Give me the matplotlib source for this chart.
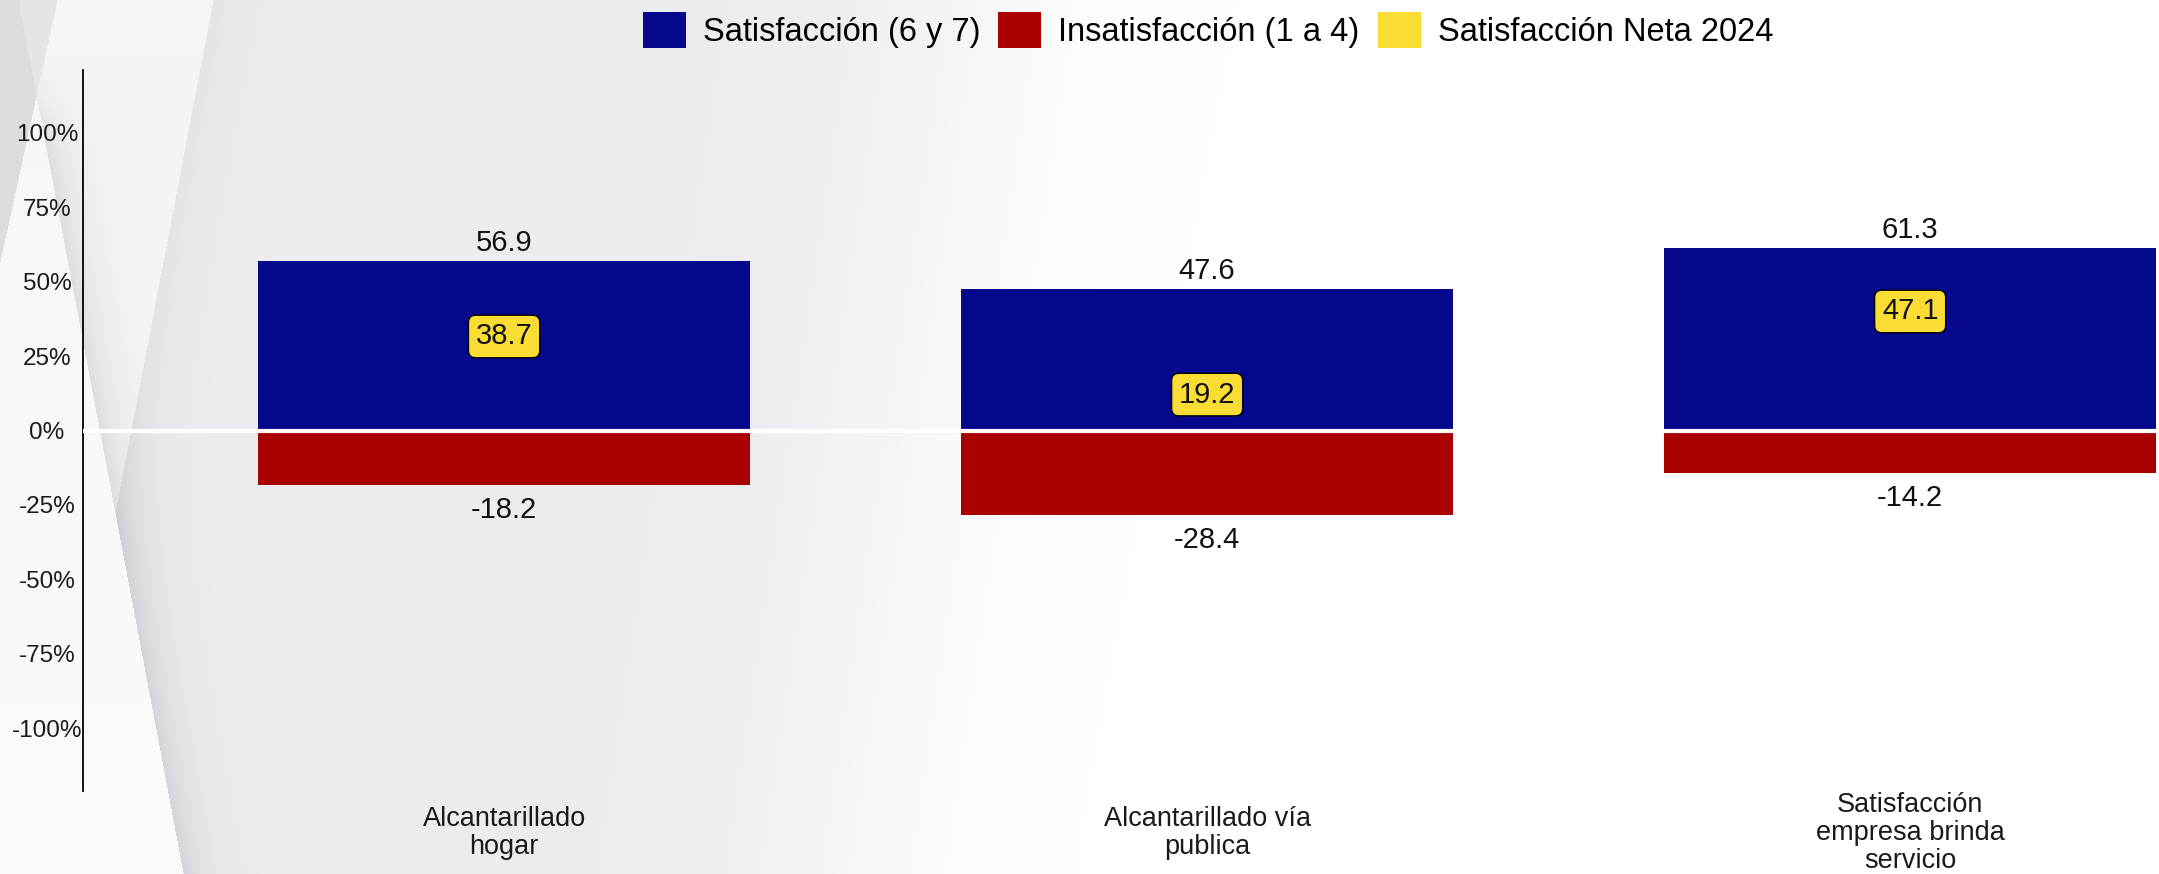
import numpy as np
import matplotlib
matplotlib.use("Agg")
import matplotlib.pyplot as plt
from matplotlib.patches import Patch

plt.rcParams['font.family'] = ['Liberation Sans', 'DejaVu Sans']

categories = ["Alcantarillado\nhogar",
              "Alcantarillado vía\npublica",
              "Satisfacción\nempresa brinda\nservicio"]
satisfaccion = [56.9, 47.6, 61.3]
insatisfaccion = [-18.2, -28.4, -14.2]
neta = [38.7, 19.2, 47.1]
yticks = [-100, -75, -50, -25, 0, 25, 50, 75, 100]
ytick_labels = [f"{t}%" for t in yticks]

c_sat = "#06098C"
c_insat = "#AA0000"
c_neta = "#F9DC34"

W, H = 2159, 874
fig = plt.figure(figsize=(W / 100, H / 100), dpi=100)

# background: grey-to-white gradient with the diagonal light bands on the left
yy, xx = np.mgrid[0:H, 0:W].astype(float)
x0 = 600 + 0.15 * (H - yy)
t = np.clip((xx - x0) / 470, 0, 1)
t = t * t * (3 - 2 * t)
main = np.array([236, 237, 241], float)
img = main[None, None, :] * (1 - t[..., None]) + 255 * t[..., None]

xa = 37 + 0.189 * (yy - 100)
xb = 213 - 0.191 * yy
xc = 57 - 0.218 * yy

def paint(mask, rgb):
    img[mask] = np.array(rgb, float)

paint((xx < xc) & (xx < xa), (220, 220, 222))
paint((xx >= xa) & (xx < xc), (229, 229, 231))
light = (xx >= xc) & (xx < xa)
lv = 246 + 5 * (yy / H)
img[light] = np.stack([lv[light]] * 3, axis=-1)
band = (xx >= np.maximum(xa, xc)) & (xx < xb)
paint(band, (244, 245, 247))

# soft shadows along the band edges
fade_in = np.clip((yy - 60) / 90, 0, 1)
edge_a = np.maximum(xa, xc)
right_a = xx >= edge_a
shade_a = np.where(right_a, 24 * fade_in * np.exp(-np.clip(xx - edge_a, 0, None) / 24), 0)
right_b = (xx >= xb) & (xx >= xa)
shade_b = np.where(right_b, 9 * np.exp(-np.clip(xx - xb, 0, None) / 30), 0)
img -= (shade_a + shade_b)[..., None]
img = np.clip(img, 0, 255) / 255

bg = fig.add_axes([0, 0, 1, 1], zorder=-10)
bg.imshow(img, extent=(0, W, H, 0), aspect='auto', interpolation='bilinear')
bg.set_axis_off()

ax = fig.add_axes([83 / W, 1 - 791 / H, 1 - 83 / W, 721 / H])
ax.patch.set_alpha(0)

x = np.arange(len(categories))
ax.bar(x, satisfaccion, width=0.7, color=c_sat, zorder=2)
ax.bar(x, insatisfaccion, width=0.7, color=c_insat, zorder=2)
ax.axhline(0, color='white', lw=3, zorder=3)

for xi, v in zip(x, satisfaccion):
    ax.annotate(f"{v:.1f}", (xi, v), xytext=(0, 7.2), textcoords='offset points',
                ha='center', va='baseline', fontsize=21, color='#111111')
for xi, v in zip(x, insatisfaccion):
    ax.annotate(f"{v:.1f}", (xi, v), xytext=(0, -23.8), textcoords='offset points',
                ha='center', va='baseline', fontsize=21, color='#111111')
for xi, v in zip(x, neta):
    ax.annotate(f"{v:.1f}", (xi, v), xytext=(0, -5.25), textcoords='offset points',
                ha='center', va='top', fontsize=21, color='#111111', zorder=4,
                bbox=dict(boxstyle='round,pad=0.25,rounding_size=0.25',
                          fc=c_neta, ec='black', lw=1))

ax.set_xlim(-0.599, 2.354)
ax.set_ylim(-121, 121)
ax.set_yticks(yticks, ytick_labels)
ax.set_xticks(x, categories)
ax.tick_params(axis='y', length=0, pad=25.9, labelsize=17.5, labelcolor='#1a1a1a')
ax.tick_params(axis='x', length=0, pad=29.9, labelsize=19.5, labelcolor='#1a1a1a')
for lbl in ax.get_yticklabels():
    lbl.set_horizontalalignment('center')
for lbl in ax.get_xticklabels():
    lbl.set_verticalalignment('center')
    lbl.set_linespacing(1.1)

for s in ['top', 'right', 'bottom']:
    ax.spines[s].set_visible(False)
ax.spines['left'].set_linewidth(1.3)
ax.spines['left'].set_color('black')

handles = [Patch(facecolor=c_sat), Patch(facecolor=c_insat), Patch(facecolor=c_neta)]
fig.legend(handles, ["Satisfacción (6 y 7)", "Insatisfacción (1 a 4)", "Satisfacción Neta 2024"],
           loc='center', bbox_to_anchor=(1208 / W, 1 - 30 / H), ncol=3, frameon=False,
           fontsize=23.5, handlelength=1.32, handleheight=1.32, handletextpad=0.52,
           columnspacing=0.55, borderpad=0, borderaxespad=0)

fig.savefig("out.png", dpi=100)
